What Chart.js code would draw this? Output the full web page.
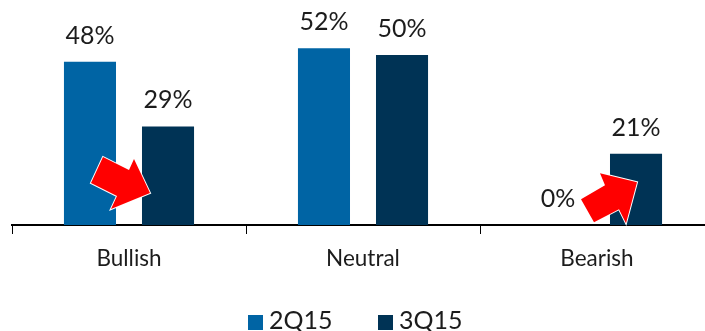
<!DOCTYPE html>
<html>
<head>
<meta charset="utf-8">
<title>Sentiment chart</title>
<script src="https://cdn.jsdelivr.net/npm/chart.js"></script>
<style>
    html, body { margin: 0; padding: 0; background: #fff; width: 705px; height: 331px; overflow: hidden; }
    canvas { display: block; }
</style>
</head>
<body>
<canvas id="chart" width="716" height="331"></canvas>
<script>
// Chart data
const categories = ['Bullish', 'Neutral', 'Bearish'];
const q2Values = [48, 52, 0];
const q3Values = [29, 50, 21];

// Red arrows: category, tip value on the y scale, tip shift from category centre
const arrowCategories = [0, 2];
const arrowTipValues = [9.4, 12.6];
const arrowTipShifts = [21, 40];

const FONT = 'Lato, "Open Sans", sans-serif';
const TEXT_COLOR = '#1c1c1c';

// Arrow outlines, relative to the tip
const arrowShapes = [
    [[-16, -34], [-21, -23], [-47, -36], [-59, -10], [-33, 3], [-39, 16]],
    [[-37, -9], [-32, 3], [-56, 17], [-43, 40], [-18, 27], [-11, 41]]
];

// Value labels above the bars
const valueLabels = {
    id: 'valueLabels',
    afterDatasetsDraw(chart) {
        const ctx = chart.ctx;
        ctx.save();
        ctx.font = '25px ' + FONT;
        ctx.fillStyle = TEXT_COLOR;
        ctx.textAlign = 'center';
        ctx.textBaseline = 'middle';
        chart.data.datasets.forEach((dataset, i) => {
            chart.getDatasetMeta(i).data.forEach((bar, j) => {
                ctx.fillText(dataset.data[j] + '%', bar.x, bar.y - 26);
            });
        });
        ctx.restore();
    }
};

// Red arrows on top of the bars
const redArrows = {
    id: 'redArrows',
    afterDraw(chart) {
        const ctx = chart.ctx;
        ctx.save();
        ctx.fillStyle = '#ff0000';
        ctx.strokeStyle = '#ffffff';
        ctx.lineWidth = 2;
        ctx.lineJoin = 'miter';
        arrowCategories.forEach((category, i) => {
            const tipX = chart.scales.x.getPixelForValue(category) + arrowTipShifts[i];
            const tipY = chart.scales.y.getPixelForValue(arrowTipValues[i]);
            ctx.beginPath();
            ctx.moveTo(tipX, tipY);
            arrowShapes[i].forEach(p => ctx.lineTo(tipX + p[0], tipY + p[1]));
            ctx.closePath();
            ctx.stroke();
            ctx.fill();
        });
        ctx.restore();
    }
};

// Legend with the tight box-to-text gap of the original
const bottomLegend = {
    id: 'bottomLegend',
    afterDraw(chart) {
        const ctx = chart.ctx;
        const starts = [248, 378];
        ctx.save();
        ctx.font = '25px ' + FONT;
        ctx.textBaseline = 'middle';
        chart.data.datasets.forEach((dataset, i) => {
            ctx.fillStyle = dataset.backgroundColor;
            ctx.fillRect(starts[i], 315, 15, 15);
            ctx.fillStyle = TEXT_COLOR;
            ctx.fillText(dataset.label, starts[i] + 21, 321);
        });
        ctx.restore();
    }
};

new Chart(document.getElementById('chart').getContext('2d'), {
    type: 'bar',
    data: {
        labels: categories,
        datasets: [
            { label: '2Q15', data: q2Values, backgroundColor: '#0064a4' },
            { label: '3Q15', data: q3Values, backgroundColor: '#003355' }
        ]
    },
    options: {
        responsive: false,
        animation: false,
        categoryPercentage: 0.667,
        barPercentage: 0.667,
        layout: { padding: { left: 12, right: 2, top: 0, bottom: 0 } },
        plugins: {
            legend: { display: false },
            tooltip: { enabled: false }
        },
        scales: {
            x: {
                border: { color: '#000', width: 2 },
                grid: { drawOnChartArea: false, color: '#000', tickLength: 9, tickWidth: 1 },
                ticks: { color: TEXT_COLOR, font: { family: FONT, size: 22.5 }, padding: 11 },
                afterFit(axis) { axis.height = 106; }
            },
            y: {
                display: false,
                min: 0,
                max: 66.2
            }
        }
    },
    plugins: [valueLabels, redArrows, bottomLegend]
});
</script>
</body>
</html>
